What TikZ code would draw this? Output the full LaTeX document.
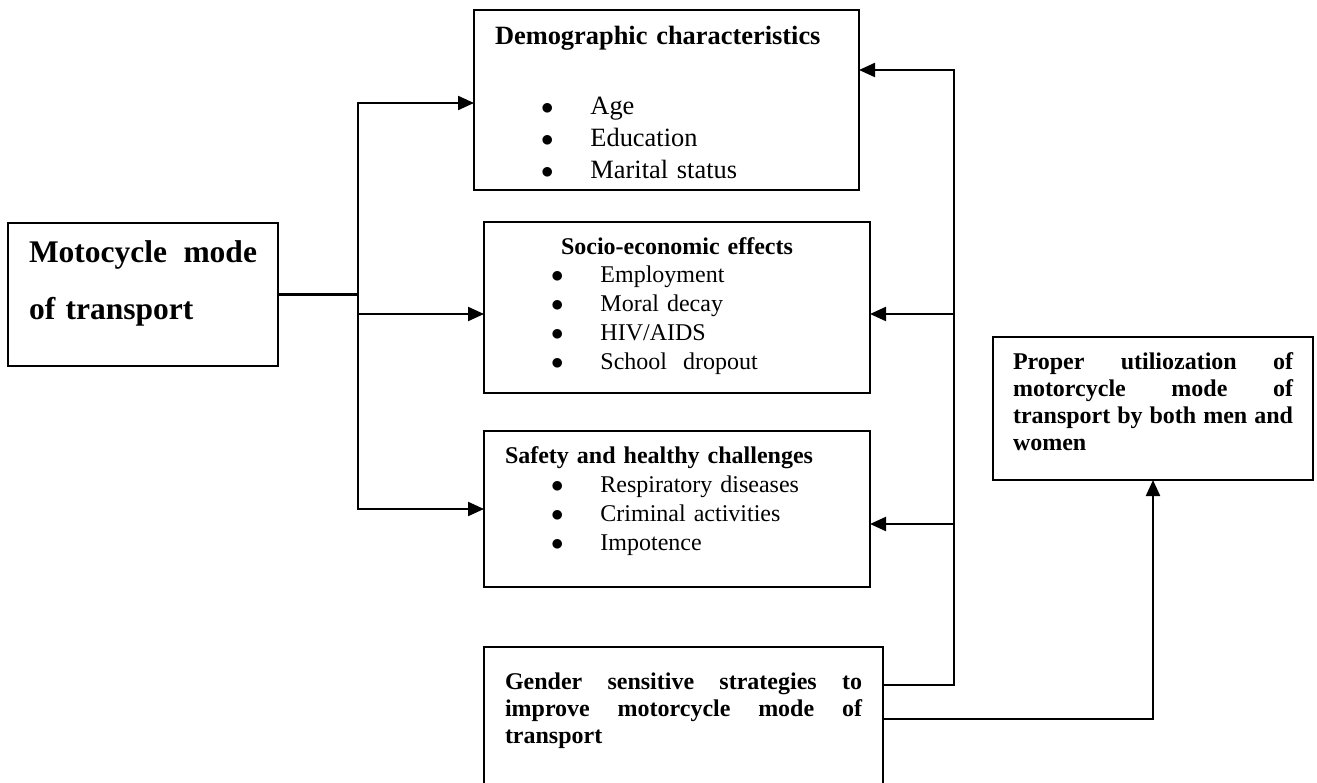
\documentclass[tikz,border=0pt]{standalone}
\usepackage{fontspec}
\setmainfont{Liberation Serif}
\usetikzlibrary{arrows.meta, positioning}
\newcommand{\listbullet}{\hspace*{46pt}$\bullet$\hspace{37pt}}
\tikzset{
  % shared base
  box/.style={
    rectangle, draw=black, line width=2pt,
    anchor=north west, inner ysep=0pt, outer sep=0pt,
  },
  % per-box shortcuts
  bMode/.style  ={box, inner xsep=21pt, text width=228pt,
                  text height=40pt, text depth=103pt,
                  font=\fontsize{31.5}{57}\selectfont\bfseries},
  bDemog/.style ={box, inner xsep=21pt, text width=343pt,
                  text height=35pt, text depth=145pt,
                  font=\fontsize{26.4}{32}\selectfont},
  bSocio/.style ={box, inner xsep=21pt, text width=344pt,
                  text height=33pt, text depth=138pt,
                  font=\fontsize{24}{29}\selectfont},
  bSafety/.style={box, inner xsep=21pt, text width=344pt,
                  text height=32pt, text depth=124pt,
                  font=\fontsize{24}{29}\selectfont},
  bGender/.style={box, inner xsep=21pt, text width=357pt,
                  text height=42pt, text depth=150pt,
                  font=\fontsize{24}{27}\selectfont\bfseries},
  bResult/.style={box, inner xsep=20pt, text width=280pt,
                  text height=33pt, text depth=110pt,
                  font=\fontsize{24}{27}\selectfont\bfseries},
  % arrows
  mainArr/.style ={-{Triangle[length=16pt, width=14pt]}, line width=2.2pt},
  bothArr/.style ={{Triangle[length=16pt, width=14pt]}-{Triangle[length=16pt, width=14pt]},
                   line width=2.2pt},
  plainLine/.style={line width=2.2pt},
}

\begin{document}
\begin{tikzpicture}[x=1pt, y=-1pt]

\useasboundingbox (0,0) rectangle (1317,783);
\clip (0,0) rectangle (1317,783);

% ═══════════════════════════════════════════════════════════════════════════
%  SOURCE – Motocycle mode of transport
% ═══════════════════════════════════════════════════════════════════════════
\node[bMode] (mode) at (8,223) {%
  Motocycle\hfill mode\\
  of transport%
};

% ═══════════════════════════════════════════════════════════════════════════
%  BOX 1 – Demographic characteristics
% ═══════════════════════════════════════════════════════════════════════════
\node[bDemog] (demog) at (474,10) {%
  \textbf{Demographic characteristics}\\[38pt]
  \listbullet Age\\
  \listbullet Education\\
  \listbullet Marital status%
};

% ═══════════════════════════════════════════════════════════════════════════
%  BOX 2 – Socio-economic effects
% ═══════════════════════════════════════════════════════════════════════════
\node[bSocio] (socio) at (484,222) {%
  \makebox[\linewidth]{\textbf{Socio-economic effects}}\\[-1pt]
  \listbullet Employment\\
  \listbullet Moral decay\\
  \listbullet HIV/AIDS\\
  \listbullet School\ \ dropout%
};

% ═══════════════════════════════════════════════════════════════════════════
%  BOX 3 – Safety and healthy challenges
% ═══════════════════════════════════════════════════════════════════════════
\node[bSafety] (safety) at (484,431) {%
  \textbf{Safety and healthy challenges}\\
  \listbullet Respiratory diseases\\
  \listbullet Criminal activities\\
  \listbullet Impotence%
};

% ═══════════════════════════════════════════════════════════════════════════
%  BOX 4 – Gender sensitive strategies
% ═══════════════════════════════════════════════════════════════════════════
\node[bGender] (gender) at (484,647) {%
  Gender\hfill sensitive\hfill strategies\hfill to\\
  improve\hfill motorcycle\hfill mode\hfill of\\
  transport%
};

% ═══════════════════════════════════════════════════════════════════════════
%  OUTCOME – Proper utilization
% ═══════════════════════════════════════════════════════════════════════════
\node[bResult] (result) at (993,337) {%
  Proper\hfill utiliozation\hfill of\\
  motorcycle\hfill mode\hfill of\\
  transport\hfill by\hfill both\hfill men\hfill and\\
  women%
};

% ═══════════════════════════════════════════════════════════════════════════
%  CONNECTORS
% ═══════════════════════════════════════════════════════════════════════════
\coordinate (lTop) at (358,103);
\coordinate (lMid) at (358,314);
\coordinate (lBot) at (358,509);
\coordinate (rTop) at (954,70);
\coordinate (rMid) at (954,314);
\coordinate (rLow) at (954,524);

% left trunk: source to the three boxes
\draw[plainLine] (mode.east) -- (mode.east -| lMid);
\draw[bothArr] (lTop -| demog.west) -- (lTop) -- (lBot) -- (lBot -| safety.west);
\draw[mainArr] (lMid) -- (lMid -| socio.west);

% right trunk: strategies back to the three boxes
\draw[mainArr] ([yshift=-38pt]gender.north east) -| (rTop) -- (rTop -| demog.east);
\draw[mainArr] (rMid) -- (rMid -| socio.east);
\draw[mainArr] (rLow) -- (rLow -| safety.east);

% strategies to outcome
\draw[mainArr] ([yshift=-72pt]gender.north east) -| (result.south);

\end{tikzpicture}
\end{document}
